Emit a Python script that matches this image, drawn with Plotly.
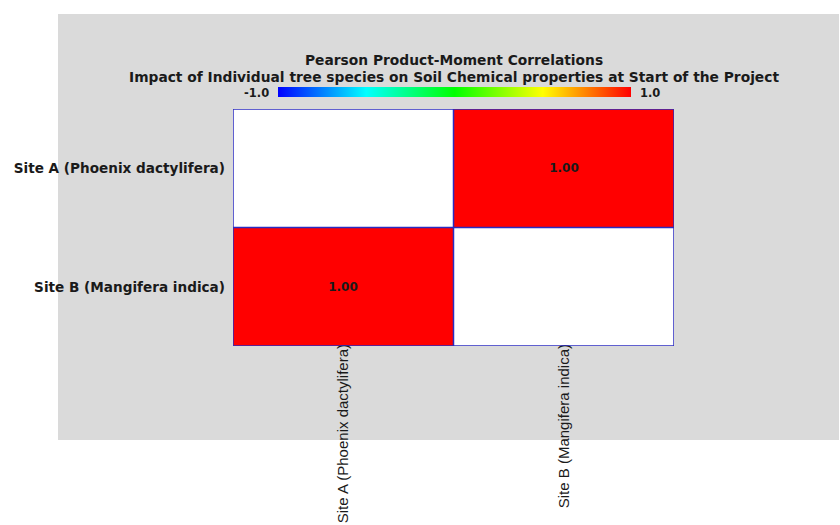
import plotly.graph_objects as go

# Correlation matrix between the two sites (diagonal left blank)
sites = ["Site A (Phoenix dactylifera)", "Site B (Mangifera indica)"]
corr = [
    [None, 1.00],
    [1.00, None],
]
diag_mask = [
    [1, None],
    [None, 1],
]
scale_labels = ["-1.0", "1.0"]
title_main = "Pearson Product-Moment Correlations"
title_sub = "Impact of Individual tree species on Soil Chemical properties at Start of the Project"

W, H = 840, 525
n = len(sites)
idx = list(range(n))

def px(x):
    return x / W

def py(y):
    return 1 - y / H

rainbow = [
    [0.0, "#0000ff"],
    [0.25, "#00ffff"],
    [0.5, "#00ff00"],
    [0.75, "#ffff00"],
    [1.0, "#ff0000"],
]

BOLD = "DejaVu Sans"
TXT = "#1a1a1a"

fig = go.Figure()

# blank diagonal cells
fig.add_trace(go.Heatmap(
    z=diag_mask, x=idx, y=idx,
    colorscale=[[0, "#ffffff"], [1, "#ffffff"]],
    showscale=False, hoverinfo="skip",
))

# correlation cells
fig.add_trace(go.Heatmap(
    z=corr, x=idx, y=idx,
    zmin=-1, zmax=1,
    colorscale=rainbow,
    texttemplate="%{z:.2f}",
    textfont=dict(family=BOLD, size=12, color=TXT, weight="bold"),
    colorbar=dict(
        orientation="h",
        x=px(454.5), xanchor="center",
        y=py(87), yanchor="top",
        xpad=0, ypad=0,
        len=353, lenmode="pixels",
        thickness=10, thicknessmode="pixels",
        outlinewidth=0,
        showticklabels=False, ticks="",
    ),
))

# cell borders
line_col = "#2b2bc0"
for k in range(n + 1):
    b = k - 0.5
    fig.add_shape(type="line", xref="x", yref="y", x0=b, x1=b, y0=-0.5, y1=n - 0.5,
                  line=dict(color=line_col, width=1.5), layer="above")
    fig.add_shape(type="line", xref="x", yref="y", x0=-0.5, x1=n - 0.5, y0=b, y1=b,
                  line=dict(color=line_col, width=1.5), layer="above")

# grey backdrop
fig.add_shape(type="rect", xref="paper", yref="paper",
              x0=px(58), x1=px(839), y0=py(440), y1=py(14),
              fillcolor="#dadada", line=dict(width=0), layer="below")

# titles
fig.add_annotation(text=title_main, xref="paper", yref="paper",
                   x=px(454), y=py(60), xanchor="center", yanchor="middle", showarrow=False,
                   font=dict(family=BOLD, size=13.8, color=TXT, weight="bold"))
fig.add_annotation(text=title_sub, xref="paper", yref="paper",
                   x=px(454), y=py(77), xanchor="center", yanchor="middle", showarrow=False,
                   font=dict(family=BOLD, size=13.8, color=TXT, weight="bold"))

# colour scale end labels
fig.add_annotation(text=scale_labels[0], xref="paper", yref="paper",
                   x=px(271), y=py(93), xanchor="right", yanchor="middle", showarrow=False,
                   font=dict(family=BOLD, size=11.5, color=TXT, weight="bold"))
fig.add_annotation(text=scale_labels[1], xref="paper", yref="paper",
                   x=px(638), y=py(93), xanchor="left", yanchor="middle", showarrow=False,
                   font=dict(family=BOLD, size=11.5, color=TXT, weight="bold"))

fig.update_layout(
    width=W, height=H,
    margin=dict(l=0, r=0, t=0, b=0),
    paper_bgcolor="#ffffff",
    plot_bgcolor="#ffffff",
    showlegend=False,
    xaxis=dict(
        domain=[px(233), px(674)],
        range=[-0.5, n - 0.5],
        tickmode="array", tickvals=idx, ticktext=sites,
        tickangle=-90, ticks="", showgrid=False, zeroline=False,
        tickfont=dict(family="Liberation Sans", size=15, color=TXT),
        ticklabelstandoff=-6,
        automargin=False, fixedrange=True,
    ),
    yaxis=dict(
        domain=[py(346), py(109)],
        range=[n - 0.5, -0.5],
        tickmode="array", tickvals=idx, ticktext=sites,
        ticks="", showgrid=False, zeroline=False,
        tickfont=dict(family=BOLD, size=13.6, color=TXT, weight="bold"),
        ticklabelstandoff=7,
        automargin=False, fixedrange=True,
    ),
)

fig.write_html("out.html")
